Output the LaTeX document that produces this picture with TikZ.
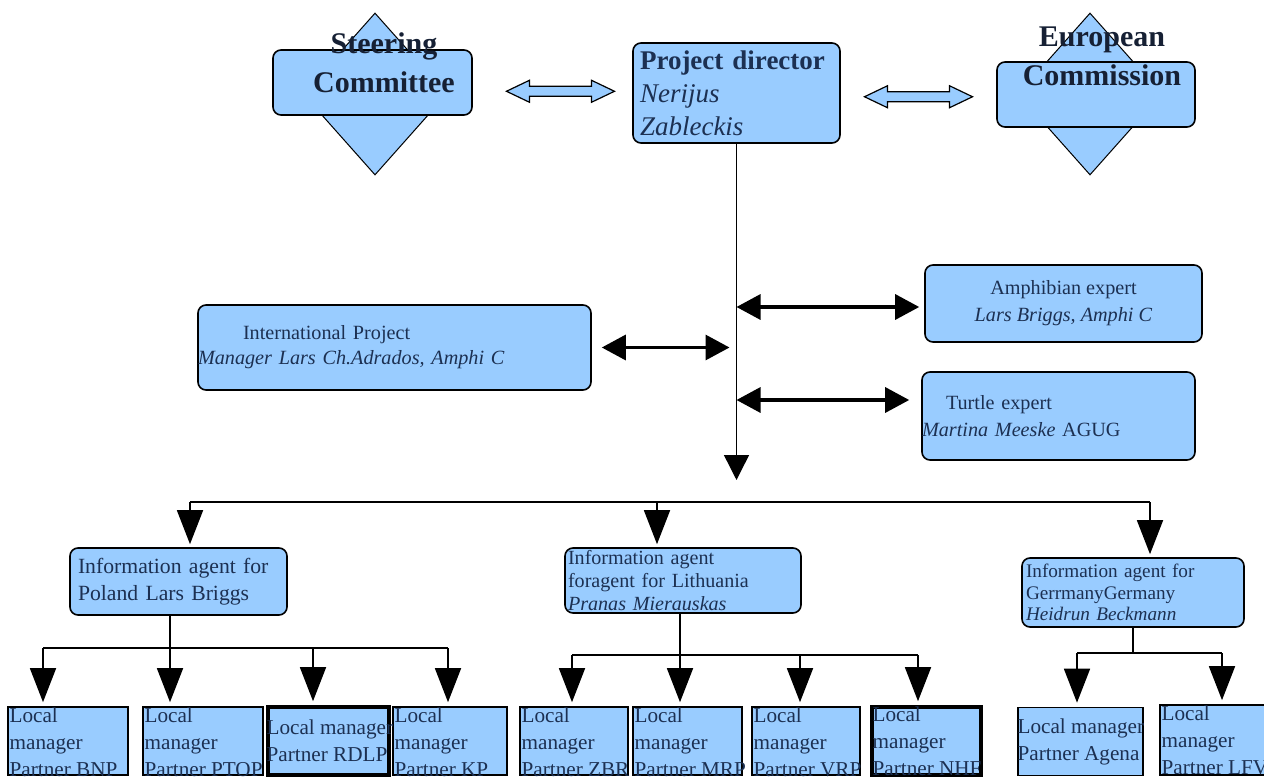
\documentclass[tikz,border=0pt]{standalone}
\usepackage{fontspec}
\setmainfont{Liberation Serif}
\usetikzlibrary{arrows.meta, shapes.geometric, calc}

\definecolor{boxblue}{HTML}{99CCFF}
\definecolor{inktext}{RGB}{28,48,82}
\definecolor{titleink}{RGB}{22,32,52}

\tikzset{
  rbox/.style={draw, fill=boxblue, rounded corners=4pt, line width=0.8pt, inner ysep=0pt, text=inktext},
  lbox/.style={draw, fill=boxblue, line width=0.8pt, minimum width=#1, minimum height=34pt, inner sep=0pt},
  hbox/.style={lbox=#1, line width=1.8pt},
  kite/.style={diamond, draw, fill=boxblue, line width=0.5pt, minimum width=72pt, minimum height=81pt, inner sep=0pt},
  title/.style={text=titleink, font=\bfseries\fontsize{15}{19.75}\selectfont, align=center, inner sep=0pt, anchor=north},
  ltext/.style={text=inktext, font=\fontsize{10.6}{13.5}\selectfont, align=left, inner xsep=1pt, inner ysep=0.5pt, anchor=north west},
  wire/.style={line width=0.8pt},
  feed/.style={wire, -{Triangle[width=13pt,length=17pt]}},
  twoway/.style={line width=1.6pt, {Triangle[width=12.5pt,length=12pt]}-{Triangle[width=12.5pt,length=12pt]}},
  hollow/.pic={\draw[fill=boxblue, line width=0.6pt] (-54,0) -- (-31,-11) -- (-31,-5) -- (31,-5) -- (31,-11) -- (54,0) -- (31,11) -- (31,5) -- (-31,5) -- (-31,11) -- cycle;}
}

\begin{document}
\begin{tikzpicture}[x=0.5pt, y=-0.5pt]
\useasboundingbox (0,0) rectangle (1264,781);

% top row
\node[kite] (scd) at (375,94) {};
\node[rbox, minimum width=99.5pt, minimum height=32.5pt] (sc) at (372.5,82.5) {};
\node[title] (sct) at (384,32) {Steering\\Committee};

\node[rbox, minimum width=103.5pt, minimum height=50pt, text width=96.5pt, inner xsep=3.5pt, align=left, font=\fontsize{13.5}{16.5}\selectfont] (pd) at (736.5,93) {\textbf{Project director}\\\textit{Nerijus}\\\textit{Zableckis}};

\node[kite] (ecd) at (1090,94) {};
\node[rbox, minimum width=99pt, minimum height=32.5pt] (ec) at (1096,94.5) {};
\node[title] (ect) at (1102,26) {European\\Commission};

\pic at ($(sc.east)!0.55!(pd.west)+(0,3)$) {hollow};
\pic at ($(pd.east)!0.5!(ec.west)+(0,3)$) {hollow};

% experts
\node[rbox, minimum width=196.5pt, minimum height=42.5pt, text width=196.5pt, inner xsep=0pt, align=left, font=\fontsize{10.1}{12.5}\selectfont] (ipm) at (394.5,347.5) {\hspace*{22.5pt}International Project\\\textit{Manager Lars Ch.Adrados, Amphi C}};
\node[rbox, minimum width=138.5pt, minimum height=38.5pt, align=center, font=\fontsize{10.1}{13.5}\selectfont] (amph) at (1063.5,303.5) {Amphibian expert\\\textit{Lars Briggs, Amphi C}};
\node[rbox, minimum width=136.5pt, minimum height=44pt, text width=136.5pt, inner xsep=0pt, align=left, font=\fontsize{10.1}{13.5}\selectfont] (turt) at (1058.5,416) {\hspace*{12pt}Turtle expert\\\textit{Martina Meeske} AGUG};

\coordinate (hub) at (736,480);
\draw[wire, line width=0.7pt, -{Triangle[width=12.5pt,length=12.5pt]}] (pd.south) -- (pd.south |- hub);

\coordinate (inamph) at ([xshift=-2.5pt, yshift=-1.75pt]amph.west);
\coordinate (inturt) at ([xshift=-6pt, yshift=8pt]turt.west);
\coordinate (outipm) at ([xshift=5pt]ipm.east);
\draw[twoway] (inamph -| pd.south) -- (inamph);
\draw[twoway] (inturt -| pd.south) -- (inturt);
\draw[twoway, shorten >=3.5pt] (outipm) -- (outipm -| pd.south);

% information agents
\node[rbox, minimum width=108.5pt, minimum height=33.5pt, text width=100.5pt, inner xsep=4pt, align=left, font=\fontsize{10.85}{13.5}\selectfont] (pol) at (178.5,581.5) {Information agent for\\Poland Lars Briggs};
\node[rbox, minimum width=118pt, minimum height=32.5pt, text width=115pt, inner xsep=1.5pt, align=left, font=\fontsize{10.05}{11.5}\selectfont] (lit) at (683,580.5) {Information agent\\foragent for Lithuania\\\textit{Pranas Mierauskas}};
\node[rbox, minimum width=111pt, minimum height=34.5pt, text width=107pt, inner xsep=2pt, align=left, font=\fontsize{9.6}{10.75}\selectfont] (ger) at (1133,592.5) {Information agent for\\GerrmanyGermany\\\textit{Heidrun Beckmann}};

\coordinate (bar) at (0,502);
\coordinate (inpol) at ([xshift=5.75pt, yshift=1.5pt]pol.north);
\coordinate (inlit) at ([xshift=-13pt, yshift=1.5pt]lit.north);
\coordinate (inger) at ([xshift=8.5pt, yshift=1.5pt]ger.north);
\draw[wire] (inpol |- bar) -- (inger |- bar);
\foreach \n in {pol, lit, ger}
  \draw[feed] (in\n |- bar) -- (in\n);

% local managers
\foreach \n/\x/\w in {bnp/68/60pt, ptop/203/60pt, kp/450/57pt, zbr/574/54pt, mrp/687.5/54.5pt, vrp/806/54pt}
  \node[lbox=\w] (\n) at (\x,741) {};
\node[hbox=60.5pt] (rdlp) at (328.5,741) {};
\node[hbox=54.5pt] (nhf) at (926.5,741) {};
\node[lbox=62.5pt] (agena) at (1080.5,741.5) {};
\node[lbox=54pt, minimum height=35pt] (lfv) at (1214,740) {};

\foreach \n/\p in {bnp/BNP, ptop/PTOP, kp/KP, zbr/ZBR, mrp/MRP, vrp/VRP, nhf/NHF, lfv/LFV}
  \node[ltext] (t\n) at (\n.north west) {Local\\manager\\Partner \p};
\node[ltext, anchor=west] (trdlp) at ([xshift=-1pt]rdlp.west) {Local manager\\Partner RDLP};
\node[ltext, anchor=west] (tagena) at ([xshift=-1pt]agena.west) {Local manager\\Partner Agena};

\foreach \n/\dx in {bnp/-12.5, ptop/-16.5, rdlp/-7.75, kp/-1, zbr/-1, mrp/-3.75, vrp/-3, nhf/-4.25, agena/-1.75, lfv/4}
  \coordinate (in\n) at ([xshift=\dx pt, yshift=2pt]\n.north);

\coordinate (plbar) at (0,648);
\coordinate (ltbar) at (0,655);
\coordinate (gebar) at (0,653);

\draw[wire] (inptop |- pol.south) -- (inptop |- plbar);
\draw[wire] (inbnp |- plbar) -- (inkp |- plbar);
\foreach \n in {bnp, ptop, rdlp, kp}
  \draw[feed] (in\n |- plbar) -- (in\n);

\draw[wire] (inmrp |- lit.south) -- (inmrp |- ltbar);
\draw[wire] (inzbr |- ltbar) -- (innhf |- ltbar);
\foreach \n in {zbr, mrp, vrp, nhf}
  \draw[feed] (in\n |- ltbar) -- (in\n);

\draw[wire] (ger.south) -- (ger.south |- gebar);
\draw[wire] (inagena |- gebar) -- (inlfv |- gebar);
\foreach \n in {agena, lfv}
  \draw[feed] (in\n |- gebar) -- (in\n);
\end{tikzpicture}
\end{document}
